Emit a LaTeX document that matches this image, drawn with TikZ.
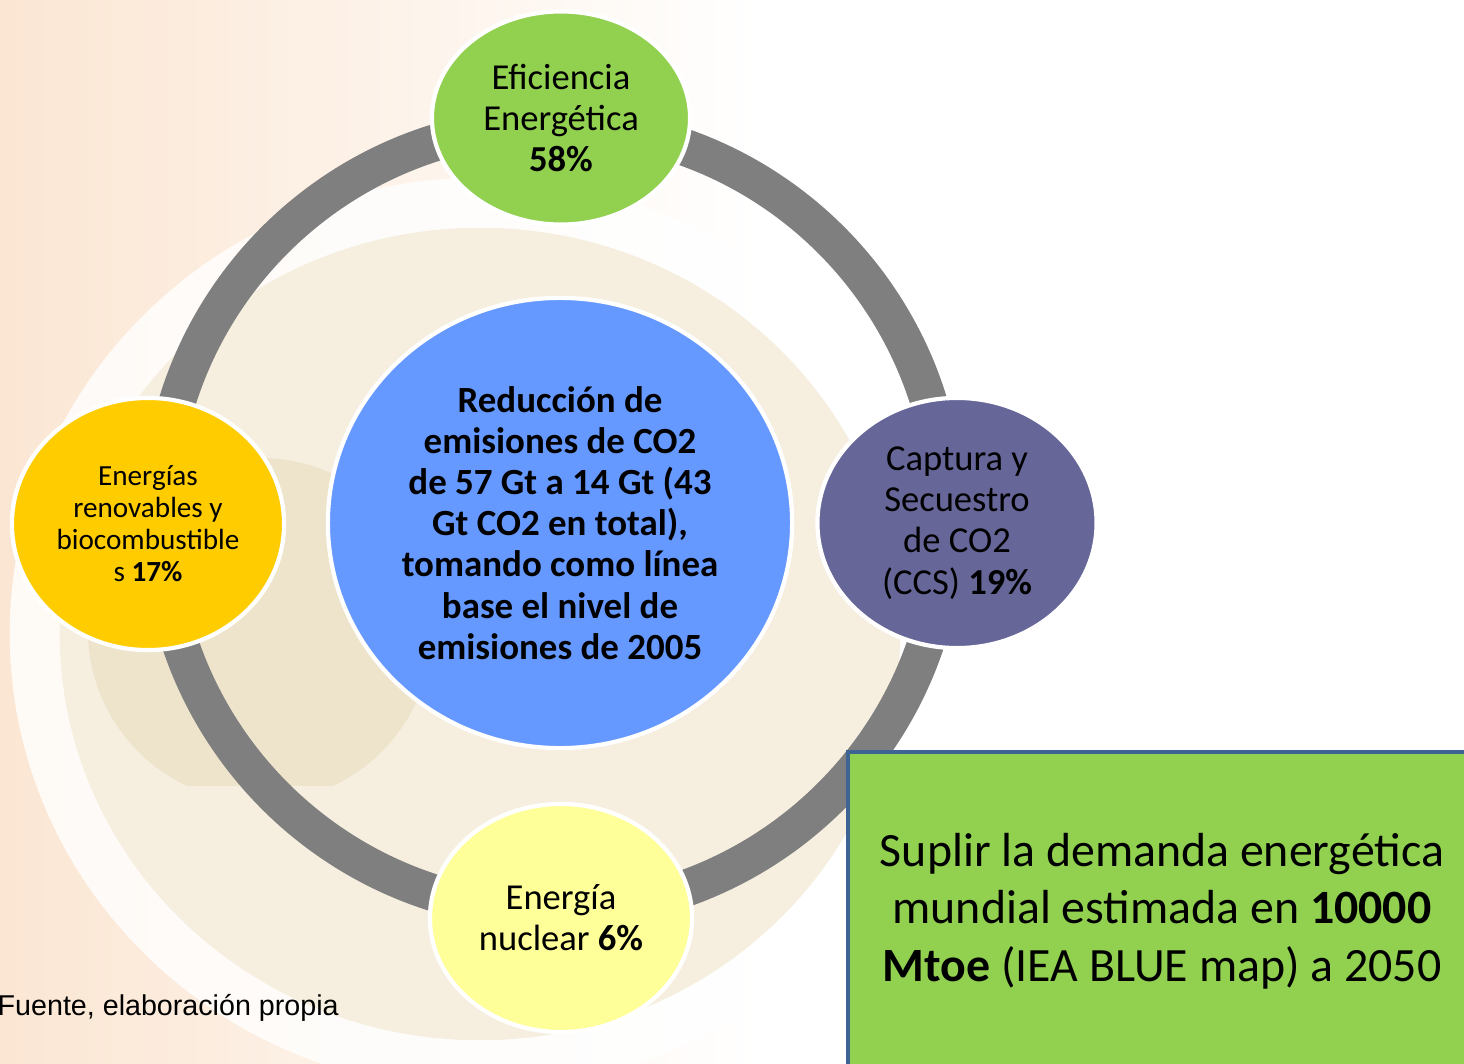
\documentclass[tikz,border=0pt]{standalone}
\usepackage{fontspec}
\setmainfont{Carlito}
\newfontfamily\srcfont{Liberation Sans}
\usetikzlibrary{shapes.geometric}
\definecolor{ringgray}{HTML}{7F7F7F}
\definecolor{peach}{HTML}{FBE6D3}
\definecolor{cream}{HTML}{F6EFE0}
\definecolor{tanbg}{HTML}{EEE4CC}
\definecolor{efgreen}{HTML}{92D050}
\definecolor{rengold}{HTML}{FFCC00}
\definecolor{ccspurple}{HTML}{666699}
\definecolor{nucyellow}{HTML}{FFFF99}
\definecolor{redblue}{HTML}{6699FF}
\definecolor{boxblue}{HTML}{3E6496}
\begin{document}
\begin{tikzpicture}[x=0.01cm,y=-0.01cm,
	bub/.style={ellipse,draw=white,line width=1.2pt,inner sep=0pt,align=center,font=\fontsize{10.4}{11.7}\selectfont},
	ring/.style={draw=ringgray,line width=0.37cm}]
	\useasboundingbox (0,0) rectangle (1464,1064);
	\shade[left color=peach,right color=white] (0,0) rectangle (760,1064);
	\fill[white,opacity=0.8] (480,634) ellipse[x radius=4.7cm,y radius=4.56cm];
	\fill[cream] (480,634) ellipse[x radius=4.2cm,y radius=4.06cm];
	\begin{scope}
		\clip (0,0) rectangle (700,785);
		\fill[tanbg] (260,630) circle[radius=1.72cm];
	\end{scope}
	\coordinate (O) at (553,518);
	\draw[ring] (O) circle[radius=3.93cm];
	\node[bub,fill=redblue,minimum width=4.64cm,minimum height=4.5cm,font=\bfseries\fontsize{10.5}{11.7}\selectfont] (red) at (560,523) {Reducción de\\emisiones de CO2\\de 57 Gt a 14 Gt (43\\Gt CO2 en total),\\tomando como línea\\base el nivel de\\emisiones de 2005};
	\node[bub,fill=efgreen,minimum width=2.58cm,minimum height=2.13cm] (ef) at (561,118) {Eficiencia\\Energética\\\textbf{58\%}};
	\node[bub,fill=rengold,minimum width=2.72cm,minimum height=2.52cm,font=\fontsize{8.3}{9.1}\selectfont] (ren) at (148,524) {Energías\\renovables y\\biocombustible\\s \textbf{17\%}};
	\node[bub,fill=ccspurple,minimum width=2.79cm,minimum height=2.5cm] (ccs) at (957,523) {Captura y\\Secuestro\\de CO2\\(CCS) \textbf{19\%}};
	\node[bub,fill=nucyellow,minimum width=2.62cm,minimum height=2.28cm] (nuc) at (561,918) {Energía\\nuclear \textbf{6\%}};
	\node[draw=boxblue,line width=1.2pt,fill=efgreen,minimum width=6.28cm,minimum height=3.18cm,align=center,font=\fontsize{13.6}{16.4}\selectfont] (dem) at (1162,911) {Suplir la demanda energética\\mundial estimada en \textbf{10000}\\\textbf{Mtoe} (IEA BLUE map) a 2050};
	\node[anchor=base west,inner sep=0pt,font=\srcfont\fontsize{8.15}{10}\selectfont] (src) at (-3,1015) {Fuente, elaboración propia};
\end{tikzpicture}
\end{document}
